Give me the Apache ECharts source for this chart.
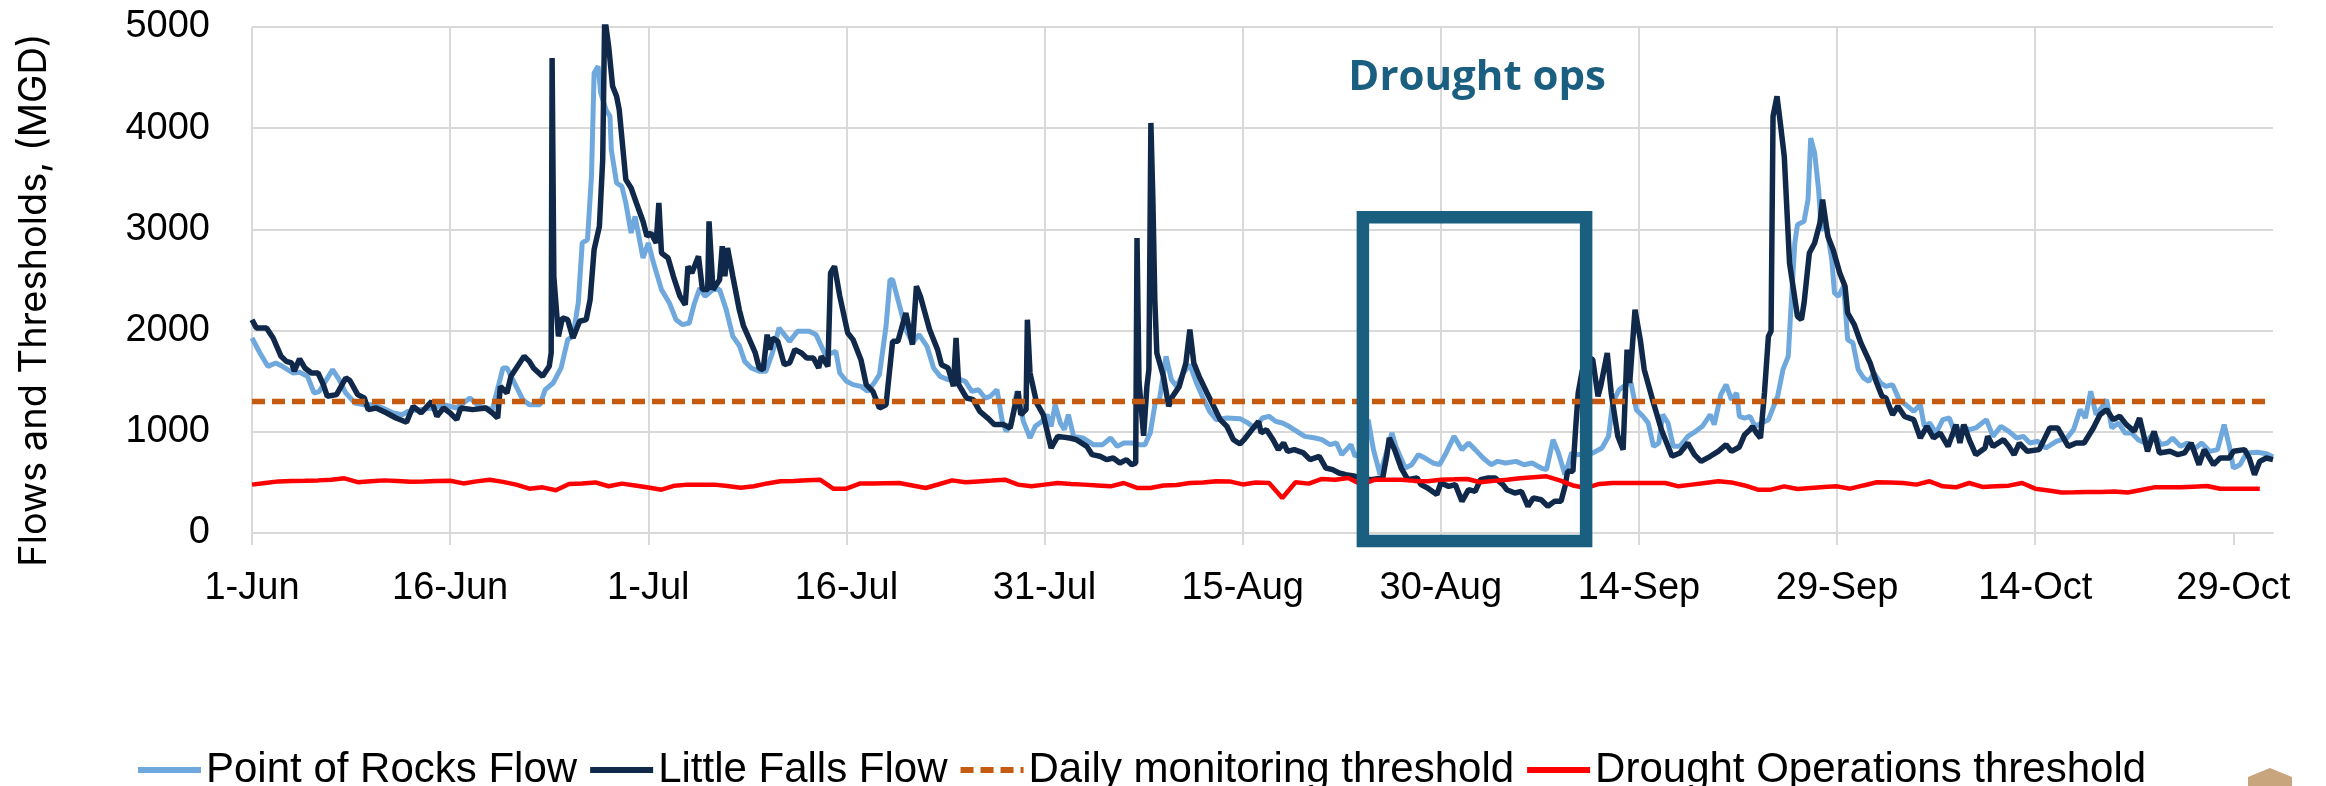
<!DOCTYPE html>
<html>
<head>
<meta charset="utf-8">
<script src="https://cdn.jsdelivr.net/npm/echarts@6/dist/echarts.min.js"></script>
<style>
html,body{margin:0;padding:0;background:#ffffff;}
#chart{width:2326px;height:786px;}
</style>
</head>
<body>
<div id="chart"></div>
<script>
// ---------- DATA (x = days after 1-Jun, y = MGD) ----------
const tickLabels = ['1-Jun','16-Jun','1-Jul','16-Jul','31-Jul','15-Aug','30-Aug','14-Sep','29-Sep','14-Oct','29-Oct'];
const tickStepDays = 15;
const axisEndDay = 153;

const seriesNames = ['Point of Rocks Flow','Little Falls Flow','Daily monitoring threshold','Drought Operations threshold'];

const pointOfRocks = [
[0,1927],[0.6,1779],[1.2,1647],[1.8,1680],[2.3,1647],[3.1,1581],[3.6,1588],[4.2,1548],[4.7,1383],[5.1,1400],[6.1,1614],[6.6,1515],[7.1,1383],[7.8,1285],[8.4,1268],[9.2,1268],[9.9,1235],[10.7,1186],[11.4,1169],[11.8,1202],[12.7,1219],[13.7,1235],[14.5,1268],[15.5,1235],[16.5,1334],[17.2,1252],[18.2,1219],[19.0,1631],[19.3,1631],[20.0,1449],[20.5,1318],[21.0,1268],[21.8,1268],[22.2,1416],[22.8,1482],[23.4,1631],[23.9,1911],[24.3,1943],[24.7,2273],[25.0,2866],[25.4,2899],[25.7,3525],[25.9,4546],[26.2,4612],[26.4,4348],[26.8,4183],[27.1,4118],[27.2,3788],[27.6,3459],[28.0,3426],[28.3,3261],[28.7,2965],[29.0,3129],[29.6,2718],[30.0,2866],[30.4,2668],[31.0,2405],[31.6,2273],[32.1,2108],[32.6,2059],[33.1,2075],[33.5,2273],[33.9,2421],[34.3,2339],[34.9,2405],[35.4,2405],[35.9,2207],[36.4,1943],
[36.9,1850],[37.3,1696],[37.8,1631],[38.4,1598],[38.9,1598],[39.4,1779],[39.9,2026],[40.7,1894],[41.3,1993],[42.2,1993],[42.7,1960],[43.4,1762],[43.9,1779],[44.2,1795],[44.5,1581],[45.0,1499],[45.5,1466],[46.1,1449],[46.6,1400],[47.1,1482],[47.5,1565],[48.0,2042],[48.3,2503],[48.5,2503],[48.9,2306],[49.5,2009],[50.0,1878],[50.5,1960],[51.1,1845],[51.6,1631],[52.1,1548],[52.7,1515],[53.3,1532],[54.0,1499],[54.5,1400],[55.0,1416],[55.5,1334],[55.9,1351],[56.4,1416],[56.8,1103],[57.1,1005],[57.5,1087],[57.9,1400],[58.4,1103],[58.9,939],[59.3,1054],[59.8,1103],[60.2,1169],[60.5,1054],[60.8,1268],[61.2,1087],[61.5,1021],[61.8,1169],[62.2,955],[62.9,939],[63.7,873],[64.4,873],[65.0,939],[65.5,856],[66.0,889],[66.6,889],[67.2,873],[67.6,873],[68.0,988],[68.4,1301],[68.7,1318],[69.2,1746],[69.6,1515],[70.0,1449],[70.5,1581],[71.0,1663],[71.5,1482],[72.0,1334],[72.5,1202],[73.0,1120],[73.8,1136],[74.8,1130],
[75.4,1087],[75.9,1038],[76.5,1136],[77.0,1153],[77.5,1103],[78.0,1087],[78.5,1054],[79.1,1005],[79.7,955],[80.5,939],[81.0,922],[81.6,873],[82.1,889],[82.5,774],[83.2,873],[83.5,758],[84.0,800],[84.5,1120],[84.9,824],[85.4,576],[85.8,758],[86.3,988],[86.6,856],[87.3,642],[87.8,675],[88.3,774],[88.8,741],[89.4,692],[89.9,675],[90.4,791],[91.0,955],[91.6,824],[92.1,889],[92.6,824],[93.2,741],[93.8,675],[94.3,708],[94.9,692],[95.7,708],[96.3,675],[96.9,692],[97.6,642],[98.0,626],[98.5,922],[98.9,791],[99.4,576],[99.9,791],[100.3,774],[101.0,780],[101.5,791],[102.2,840],[102.7,955],[103.0,1285],[103.5,1416],[104.0,1466],[104.4,1482],[104.8,1219],[105.3,1153],[105.7,1087],[106.1,856],[106.5,889],[106.8,1169],[107.2,1087],[107.6,856],[108.1,856],[108.7,955],[109.3,1005],[109.8,1054],[110.4,1169],[110.7,1071],[111.2,1367],[111.6,1466],[112.0,1318],[112.4,1383],[112.6,1153],
[113.0,1136],[113.4,1153],[113.8,1054],[114.3,1087],[114.8,1120],[115.1,1219],[115.5,1351],[115.9,1614],[116.3,1746],[116.5,2207],[116.8,2866],[117.0,3047],[117.5,3080],[117.8,3294],[118.0,3903],[118.3,3755],[118.6,3393],[118.8,2998],[119.2,3030],[119.6,2701],[119.8,2372],[120.1,2339],[120.5,2438],[120.8,1911],[121.2,1878],[121.6,1614],[122.0,1532],[122.4,1499],[122.8,1581],[123.3,1482],[123.7,1449],[124.2,1466],[124.7,1318],[125.2,1268],[125.8,1202],[126.3,1268],[126.6,1054],[127.0,1087],[127.5,988],[128.0,1120],[128.5,1136],[129.0,955],[129.5,1054],[130.0,1021],[130.5,1038],[131.3,1120],[131.8,955],[132.4,1054],[133.0,1005],[133.6,939],[134.1,955],[134.6,889],[135.2,906],[135.8,840],[136.6,906],[137.4,939],[137.9,1021],[138.4,1219],[138.8,1136],[139.2,1400],[139.6,1169],[140.0,1235],[140.4,1318],[140.8,1038],[141.3,1087],[141.8,988],[142.3,988],[142.8,922],[143.3,889],[144.0,988],[144.5,873],[145.0,889],[145.4,939],[146.0,856],[146.5,889],[147.0,824],[147.6,889],[148.2,807],[148.8,824],[149.3,1071],[149.7,856],[150.0,642],[150.5,675],[151.0,791],[151.8,797],[152.5,784],[153.0,751]
];

const littleFalls = [
[0,2108],[0.33,2026],[1.1,2026],[1.6,1927],[2.2,1746],[2.6,1696],[3.0,1680],[3.2,1598],[3.6,1720],[4.0,1631],[4.5,1581],[5.0,1581],[5.4,1466],[5.7,1351],[6.4,1367],[7.1,1532],[7.4,1509],[8.0,1367],[8.5,1334],[8.8,1219],[9.4,1235],[10.2,1186],[10.9,1136],[11.7,1094],[12.2,1252],[12.8,1186],[13.6,1301],[14.0,1153],[14.5,1235],[15.0,1186],[15.5,1120],[15.8,1235],[16.7,1219],[17.7,1235],[18.2,1186],[18.6,1136],[18.8,1449],[19.3,1383],[19.6,1548],[20.1,1647],[20.6,1746],[21.0,1696],[21.3,1631],[22.0,1548],[22.5,1647],[22.65,1779],[22.72,4694],[22.85,2536],[23.2,1943],[23.5,2125],[23.9,2108],[24.3,1927],[24.8,2092],[25.3,2108],[25.6,2306],[25.9,2800],[26.3,3030],[26.55,3689],[26.7,5100],[27.0,4809],[27.3,4414],[27.6,4315],[27.8,4183],[28.3,3492],[28.7,3409],[29.1,3261],[29.6,3080],[29.9,2932],[30.2,2965],[30.6,2866],[30.8,3261],[31.0,2767],[31.5,2718],[31.9,2536],[32.4,2339],[32.8,2256],[33.0,2635],[33.3,2569],[33.8,2734],[34.1,2405],[34.5,2405],[34.6,3080],[34.9,2405],[35.4,2503],[35.6,2833],[35.8,2536],[36.0,2816],[36.4,2536],[36.9,2200],
[37.2,2050],[37.5,1960],[38.1,1779],[38.4,1631],[38.7,1614],[39.0,1960],[39.2,1812],[39.4,1927],[39.8,1894],[40.3,1663],[40.7,1680],[41.1,1812],[41.6,1779],[42.0,1729],[42.5,1729],[42.9,1631],[43.1,1746],[43.6,1647],[43.8,2569],[44.1,2635],[44.5,2339],[45.1,1976],[45.5,1911],[46.1,1713],[46.5,1466],[47.0,1400],[47.5,1235],[48.0,1268],[48.5,1894],[48.9,1894],[49.5,2174],[50.0,1861],[50.3,2438],[50.6,2339],[51.3,2009],[51.9,1812],[52.2,1663],[52.7,1631],[53.1,1449],[53.3,1927],[53.5,1466],[54.1,1334],[54.6,1318],[55.1,1202],[55.7,1136],[56.2,1071],[56.9,1071],[57.4,1038],[58.0,1400],[58.2,1169],[58.6,1219],[58.7,2108],[58.9,1581],[59.4,1285],[59.9,1169],[60.5,840],[61.0,955],[61.9,939],[62.4,922],[63.2,856],[63.6,774],[64.2,758],[64.7,725],[65.2,741],[65.7,692],[66.2,725],[66.6,675],[66.9,692],[67.0,2915],[67.15,1500],[67.5,960],[67.75,1450],[67.9,1614],[68.05,4052],[68.2,3300],[68.35,2300],[68.5,1779],[69.0,1548],[69.4,1252],[69.7,1351],[70.2,1449],[70.7,1680],[71.0,2009],[71.3,1680],[71.7,1548],[72.3,1383],[72.8,1252],[73.3,1120],[73.8,1054],[74.3,922],[74.8,880],
[75.1,922],[75.5,988],[76.2,1103],[76.4,990],[76.8,1021],[77.3,922],[77.7,824],[78.1,889],[78.4,807],[78.9,824],[79.6,791],[80.1,725],[80.8,758],[81.3,642],[81.8,626],[82.3,593],[82.8,576],[83.5,560],[83.9,544],[84.7,527],[85.6,544],[85.9,758],[86.1,939],[86.5,824],[87.0,642],[87.5,527],[88.2,544],[88.5,478],[89.0,445],[89.7,379],[90.0,494],[90.6,461],[91.1,478],[91.6,313],[92.1,428],[92.6,412],[93.0,527],[93.6,544],[94.1,544],[94.7,478],[95.0,428],[95.6,395],[96.1,412],[96.6,264],[97.0,346],[97.6,329],[98.1,264],[98.6,313],[99.1,313],[99.4,461],[99.6,609],[100.0,609],[100.2,1021],[100.4,1383],[100.7,1600],[101.0,1750],[101.5,1713],[101.9,1351],[102.1,1449],[102.6,1779],[102.9,1383],[103.4,955],[103.8,824],[104.1,1812],[104.3,1482],[104.7,2207],[105.1,1911],[105.4,1614],[106.1,1285],[106.7,1021],[107.5,758],[108.1,791],[108.7,889],[109.2,774],[109.7,708],[110.4,758],[111.0,807],[111.6,873],[112.0,807],[112.6,850],
[113.0,972],[113.4,1021],[113.6,1054],[113.9,988],[114.2,939],[114.5,1383],[114.8,1943],[115.0,1993],[115.15,4118],[115.45,4315],[115.7,4052],[116.0,3722],[116.4,2668],[116.7,2405],[117.0,2141],[117.3,2108],[117.5,2273],[117.9,2767],[118.3,2866],[118.7,3063],[118.9,3294],[119.3,2932],[119.7,2800],[120.2,2569],[120.6,2438],[120.8,2174],[121.3,2059],[121.8,1878],[122.5,1680],[123.0,1482],[123.4,1351],[123.7,1334],[124.2,1169],[124.6,1252],[125.1,1153],[125.8,1120],[126.3,939],[126.8,1054],[127.3,939],[127.8,988],[128.4,856],[129.0,1071],[129.3,889],[129.6,1071],[130.0,922],[130.5,774],[131.2,840],[131.4,955],[131.8,856],[132.6,922],[133.0,856],[133.4,774],[133.8,889],[134.4,807],[135.3,824],[136.1,1038],[136.7,1038],[137.5,856],[138.1,889],[138.7,889],[139.4,1038],[139.9,1169],[140.4,1219],[140.9,1120],[141.4,1153],[141.9,1071],[142.5,1005],[142.9,1136],[143.5,807],[144.0,1005],[144.4,791],[145.2,807],[145.8,774],[146.3,791],[146.8,889],[147.4,675],[147.8,824],[148.5,675],[149.0,741],[149.7,741],[150.0,807],[150.85,824],[151.2,741],[151.6,576],[152.0,708],[152.5,741],[153.0,725]
];

const monitoringThresholdDays = [0, 152.8];
const monitoringThresholdValues = [1300, 1300];

// daily drought operations threshold, 1-Jun .. 31-Oct
const droughtThreshold = [
478,495,510,515,517,520,527,540,502,512,
520,515,507,510,515,517,490,510,527,505,
478,438,451,422,484,490,500,462,488,470,
450,428,468,478,478,478,465,448,462,490,
511,515,522,527,438,438,488,490,492,494,
470,445,482,520,501,510,518,527,478,461,
478,494,485,478,470,461,494,445,445,470,
475,494,498,512,510,480,498,494,346,501,
488,534,527,544,478,527,527,527,515,511,
527,530,534,501,515,527,540,550,560,520,
470,445,485,494,494,494,494,494,461,478,
495,511,500,470,428,428,461,435,445,455,
461,438,470,501,498,494,478,511,461,451,
494,455,462,468,494,438,420,400,402,405,
405,410,400,425,451,451,451,458,465,438,
438,438,438
];

// annotation
const droughtBox = {startDay: 84.1, endDay: 101.0, top: 3120, bottom: -80};
const droughtLabel = {text: 'Drought ops', day: 92.75, value: 4500};

// ---------- CHART ----------
const chart = echarts.init(document.getElementById('chart'), null, {renderer: 'canvas'});
const tickFont = '"Liberation Sans", Arial, sans-serif';
const titleFont = 'Inter, "Liberation Sans", sans-serif';
const legendFont = '"Liberation Sans", Arial, sans-serif';
const gridColor = '#d9d9d9';
const tickDays = tickLabels.map((_, i) => i * tickStepDays);

const option = {
  backgroundColor: '#ffffff',
  animation: false,
  grid: {left: 252, right: 53, top: 27, bottom: 253, containLabel: false},
  xAxis: {
    type: 'value', min: 0, max: axisEndDay, interval: tickStepDays,
    axisLine: {show: true, lineStyle: {color: gridColor, width: 2}},
    axisTick: {show: true, length: 12, lineStyle: {color: gridColor, width: 2}, customValues: tickDays},
    axisLabel: {
      customValues: tickDays,
      formatter: v => tickLabels[Math.round(v / tickStepDays)] || '',
      fontFamily: tickFont, fontSize: 38, color: '#000', margin: 37
    },
    splitLine: {show: true, showMaxLine: false, lineStyle: {color: gridColor, width: 2}}
  },
  yAxis: {
    type: 'value', min: 0, max: 5000, interval: 1000,
    axisLine: {show: false}, axisTick: {show: false},
    axisLabel: {fontFamily: tickFont, fontSize: 38, color: '#000', margin: 42, formatter: v => String(v)},
    splitLine: {show: true, lineStyle: {color: gridColor, width: 2}},
    name: 'Flows and Thresholds, (MGD)', nameLocation: 'middle', nameRotate: 90, nameGap: 198,
    nameTextStyle: {fontFamily: titleFont, fontSize: 38, color: '#000', padding: [0, 40, 0, 0]}
  },
  legend: {
    data: seriesNames, left: 130, top: 744, itemWidth: 63, itemHeight: 14, itemGap: 10,
    itemStyle: {opacity: 0},
    lineStyle: {width: 6},
    textStyle: {fontFamily: legendFont, fontSize: 42, color: '#000'}
  },
  series: [
    {name: seriesNames[0], type: 'line', data: pointOfRocks, symbol: 'none', clip: true,
     lineStyle: {color: '#6FA8DC', width: 5}, itemStyle: {color: '#6FA8DC'}},
    {name: seriesNames[1], type: 'line', data: littleFalls, symbol: 'none', clip: true,
     lineStyle: {color: '#10294A', width: 5.5}, itemStyle: {color: '#10294A'}},
    {name: seriesNames[2], type: 'line', symbol: 'none',
     data: monitoringThresholdDays.map((d, i) => [d, monitoringThresholdValues[i]]),
     lineStyle: {color: '#C55A11', width: 5.5, type: [13, 7]}, itemStyle: {color: '#C55A11'}},
    {name: seriesNames[3], type: 'line', symbol: 'none',
     data: droughtThreshold.map((v, i) => [i, v]),
     lineStyle: {color: '#FF0000', width: 4.5}, itemStyle: {color: '#FF0000'}}
  ]
};
chart.setOption(option);

function placeAnnotations() {
  const tl = chart.convertToPixel({gridIndex: 0}, [droughtBox.startDay, droughtBox.top]);
  const br = chart.convertToPixel({gridIndex: 0}, [droughtBox.endDay, droughtBox.bottom]);
  const lp = chart.convertToPixel({gridIndex: 0}, [droughtLabel.day, droughtLabel.value]);
  chart.setOption({
    graphic: [
      {type: 'rect', z: 50, shape: {x: tl[0], y: tl[1], width: br[0] - tl[0], height: br[1] - tl[1]},
       style: {fill: 'none', stroke: '#1A5E80', lineWidth: 12.5}},
      {type: 'text', z: 50, x: lp[0], y: lp[1],
       style: {text: droughtLabel.text, fill: '#1A5E80', font: 'bold 42px "Open Sans", Inter, sans-serif',
               textAlign: 'center', textVerticalAlign: 'middle'}},
      {type: 'polygon', z: 50, shape: {points: [[2248, 786], [2248, 777], [2270, 768], [2292, 777], [2292, 786]]},
       style: {fill: '#C9A57E'}}
    ]
  });
}
placeAnnotations();
</script>
</body>
</html>
